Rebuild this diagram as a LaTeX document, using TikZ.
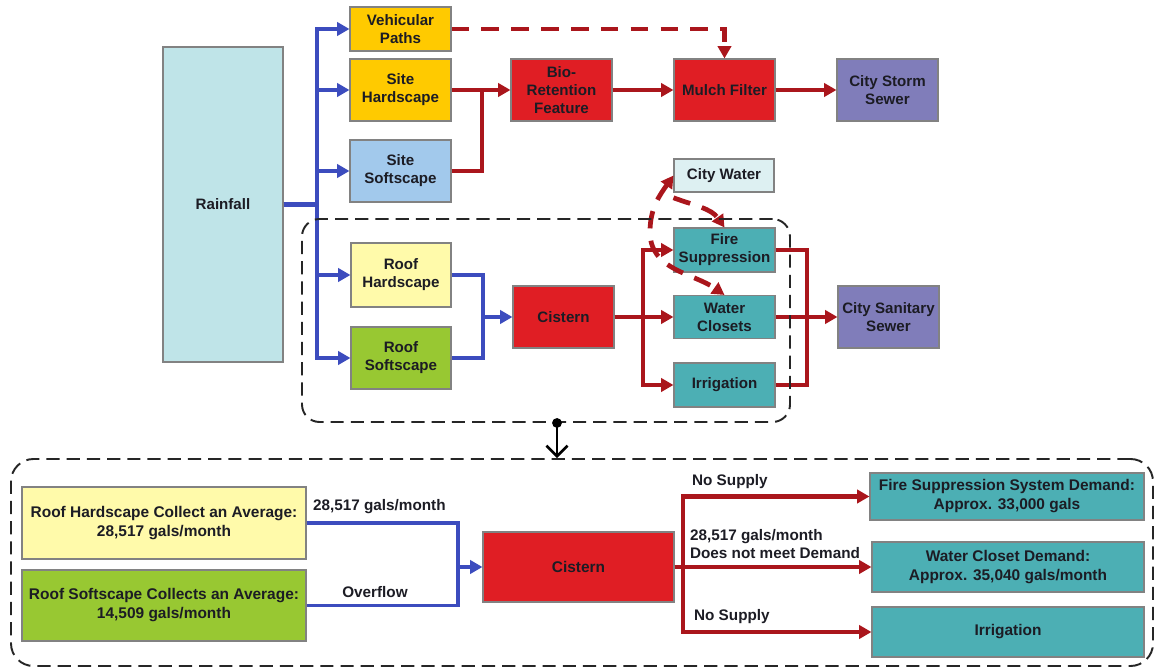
\documentclass[tikz,border=0pt]{standalone}
\usepackage{fontspec}
\setmainfont{Liberation Sans}
\usetikzlibrary{arrows.meta}

\definecolor{rainfill}{RGB}{191,228,232}
\definecolor{goldfill}{RGB}{255,202,0}
\definecolor{softblue}{RGB}{162,201,236}
\definecolor{redfill}{RGB}{224,30,36}
\definecolor{sewerfill}{RGB}{128,125,186}
\definecolor{waterfill}{RGB}{221,240,242}
\definecolor{roofyellow}{RGB}{255,250,170}
\definecolor{roofgreen}{RGB}{152,200,50}
\definecolor{tealfill}{RGB}{76,175,180}
\definecolor{flowblue}{RGB}{60,76,190}
\definecolor{flowred}{RGB}{170,22,28}
\definecolor{boxline}{RGB}{130,130,130}
\definecolor{textdark}{RGB}{28,28,36}

\begin{document}
\begin{tikzpicture}[x=0.02cm, y=-0.02cm,
  boxsize/.style 2 args={minimum width=#1*0.02cm, minimum height=#2*0.02cm},
  box/.style={draw=boxline, line width=0.6pt, align=center, inner sep=1pt,
    text=textdark, font=\fontsize{8.6}{10.2}\selectfont\bfseries},
  bigbox/.style={box, font=\fontsize{8.8}{10.8}\selectfont\bfseries},
  lbl/.style={inner sep=1pt, text=textdark, font=\fontsize{8.7}{10.6}\selectfont\bfseries},
  blueline/.style={draw=flowblue, line width=2.5pt},
  bluearrow/.style={blueline, -{Triangle[length=7pt,width=7.5pt]}},
  redline/.style={draw=flowred, line width=2.5pt},
  redarrow/.style={redline, -{Triangle[length=7pt,width=7.5pt]}},
  reddash/.style={redline, line width=2.7pt, dash pattern=on 10pt off 7pt,
    -{Triangle[length=7pt,width=7.5pt]}},
  groupbox/.style={draw=black!85, line width=1.1pt, dash pattern=on 7.5pt off 4pt},
  linkarrow/.style={draw=black, line width=1.5pt,
    -{Straight Barb[length=6pt,width=12pt,line width=1.5pt]}}]

  \useasboundingbox (0,0) rectangle (1157,668);

  % standard box size
  \def\bw{101}
  \def\bh{62}

  % source
  \node[box, fill=rainfill, boxsize={120}{315}] (rain) at (223,204.5) {Rainfall};

  % site surfaces
  \node[box, fill=goldfill, boxsize={\bw}{44}] (veh) at (400.5,29) {Vehicular\\Paths};
  \node[box, fill=goldfill, boxsize={\bw}{\bh}] (shard) at (400.5,90) {Site\\Hardscape};
  \node[box, fill=softblue, boxsize={\bw}{\bh}] (ssoft) at (400.5,171) {Site\\Softscape};

  % storm water treatment
  \node[box, fill=redfill, boxsize={\bw}{\bh}] (bio) at (561.5,90) {Bio-\\Retention\\Feature};
  \node[box, fill=redfill, boxsize={\bw}{\bh}] (mulch) at (724.5,90) {Mulch Filter};
  \node[box, fill=sewerfill, boxsize={\bw}{\bh}] (storm) at (887.5,90) {City Storm\\Sewer};

  % roof surfaces and reuse
  \node[box, fill=roofyellow, boxsize={100}{64}] (rhard) at (401,275) {Roof\\Hardscape};
  \node[box, fill=roofgreen, boxsize={100}{\bh}] (rsoft) at (401,358) {Roof\\Softscape};
  \node[box, fill=redfill, boxsize={\bw}{\bh}] (cistern) at (563.5,317) {Cistern};
  \node[box, fill=waterfill, boxsize={100}{33}] (citywater) at (724,175.5) {City Water};
  \node[box, fill=tealfill, boxsize={\bw}{44}] (fire) at (724.5,250) {Fire\\Suppression};
  \node[box, fill=tealfill, boxsize={\bw}{43}] (wc) at (724.5,317) {Water\\Closets};
  \node[box, fill=tealfill, boxsize={\bw}{44}] (irr) at (724.5,385) {Irrigation};
  \node[box, fill=sewerfill, boxsize={\bw}{\bh}] (sanitary) at (888.5,317) {City Sanitary\\Sewer};

  % rain to surfaces
  \coordinate (rt) at (317,204.5);
  \foreach \s in {veh,shard,ssoft,rhard,rsoft}
    \draw[bluearrow] (rain.east) -- (rt) |- (\s.west);

  % site runoff
  \coordinate (bj) at (482,90);
  \draw[redline] (ssoft.east) -| (bj);
  \draw[redarrow] (shard.east) -- (bio.west);
  \draw[redarrow] (bio) -- (mulch);
  \draw[redarrow] (mulch) -- (storm);
  \draw[reddash] (veh.east) -| (mulch.north);

  % roof runoff
  \coordinate (cj) at (483,317);
  \draw[blueline] (rhard.east) -| (cj) |- (rsoft.east);
  \draw[bluearrow] (cj) -- (cistern.west);

  % cistern supply
  \coordinate (dj) at (643,317);
  \foreach \t in {fire,wc,irr}
    \draw[redarrow] (cistern.east) -- (dj) |- (\t.west);

  % city water backup
  \coordinate (cw) at (650,232);
  \draw[reddash] ([yshift=-3pt]citywater.south west) to[out=-20,in=125] (fire.north);
  \draw[reddash, {Triangle[length=7pt,width=7.5pt]}-{Triangle[length=7pt,width=7.5pt]}]
    (citywater.west) to[out=235,in=90] (cw) to[out=-90,in=145] (wc.north);

  % to sanitary sewer
  \coordinate (sj) at (807,317);
  \foreach \t in {fire,irr}
    \draw[redline] (\t.east) -| (sj);
  \draw[redarrow] (wc.east) -- (sanitary.west);

  % detail of the roof system
  \node[bigbox, fill=roofyellow, boxsize={284}{72}] (rhcol) at (164,523)
    {Roof Hardscape Collect an Average:\\28,517 gals/month};
  \node[bigbox, fill=roofgreen, boxsize={284}{71}] (rscol) at (164,605.5)
    {Roof Softscape Collects an Average:\\14,509 gals/month};
  \node[bigbox, fill=redfill, boxsize={191}{70}] (cist2) at (578.5,567) {Cistern};
  \node[bigbox, fill=tealfill, boxsize={274}{47}] (firedem) at (1007,496.5)
    {Fire Suppression System Demand:\\Approx. 33,000 gals};
  \node[bigbox, fill=tealfill, boxsize={272}{50}] (wcdem) at (1008,567)
    {Water Closet Demand:\\Approx. 35,040 gals/month};
  \node[bigbox, fill=tealfill, boxsize={272}{50}] (irrdem) at (1008,632) {Irrigation};

  \coordinate (bj2) at (458,567);
  \draw[blueline, line width=2pt] (rhcol.east) -| (bj2) |- (rscol.east);
  \draw[bluearrow, line width=2pt] (bj2) -- (cist2.west);

  \coordinate (rj2) at (683,567);
  \foreach \t in {firedem,wcdem,irrdem}
    \draw[redarrow] (cist2.east) -- (rj2) |- (\t.west);

  % flow labels
  \node[lbl, anchor=west] (lhard) at (311,507) {28,517 gals/month};
  \node[lbl] (lover) at (375,592) {Overflow};
  \node[lbl, anchor=west] (lfire) at (690,482) {No Supply};
  \node[lbl, anchor=west, align=left] (lwc) at (688,544)
    {28,517 gals/month\\Does not meet Demand};
  \node[lbl, anchor=west] (lirr) at (692,617) {No Supply};

  % groups
  \node[groupbox, rounded corners=0.35cm, boxsize={488}{203}] (topgrp) at (546,320.5) {};
  \node[groupbox, rounded corners=0.45cm, boxsize={1142}{207}] (botgrp) at (582,562.5) {};
  \coordinate (lk) at (557,440);
  \fill[black] (topgrp.south -| lk) circle (2.8pt);
  \draw[linkarrow] (topgrp.south -| lk) -- (botgrp.north -| lk);

\end{tikzpicture}
\end{document}
